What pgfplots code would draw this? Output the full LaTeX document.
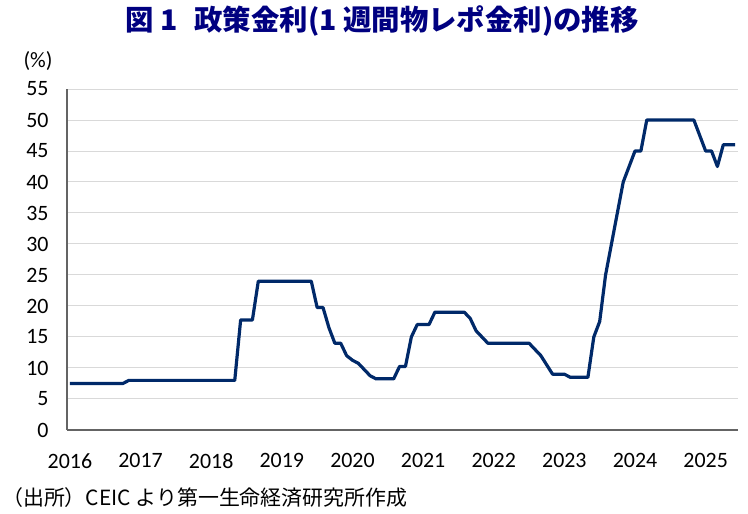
\documentclass[border=0pt]{standalone}
\usepackage{pgfplots}
\pgfplotsset{compat=1.18}
\usepackage{fontspec}
\setmainfont{Carlito}
\newfontfamily\jp{Noto Sans CJK JP}
\definecolor{linecol}{RGB}{0,41,105}
\definecolor{titlecol}{RGB}{0,0,128}
\definecolor{gridcol}{RGB}{217,217,217}
\definecolor{axcol}{RGB}{100,100,100}
\begin{document}
\begin{tikzpicture}
\path[use as bounding box] (0,0) rectangle (748bp,514bp);
\begin{axis}[
  at={(67bp,84bp)}, anchor=south west,
  scale only axis, width=671bp, height=341bp,
  xmin=-0.5, xmax=113.5, ymin=0, ymax=55,
  axis lines*=left,
  axis line style={draw=axcol, line width=1.3bp},
  xtick={0,12,24,36,48,60,72,84,96,108},
  xticklabels={2016,2017,2018,2019,2020,2021,2022,2023,2024,2025},
  ytick={0,5,10,15,20,25,30,35,40,45,50,55},
  major tick length=0pt,
  ymajorgrids, grid style={draw=gridcol, line width=1bp},
  /pgf/number format/assume math mode=true,
  ticklabel style={font=\fontsize{22}{24}\selectfont, text=black},
  yticklabel style={xshift=-15bp},
  xticklabel style={yshift=-20bp},
  clip=false,
]
\addplot[linecol, line width=3.2bp, line join=round] coordinates {
(0,7.5)(1,7.5)(2,7.5)(3,7.5)(4,7.5)(5,7.5)(6,7.5)(7,7.5)(8,7.5)(9,7.5)(10,8)(11,8)
(12,8)(13,8)(14,8)(15,8)(16,8)(17,8)(18,8)(19,8)(20,8)(21,8)(22,8)(23,8)
(24,8)(25,8)(26,8)(27,8)(28,8)(29,17.75)(30,17.75)(31,17.75)(32,24)(33,24)(34,24)(35,24)
(36,24)(37,24)(38,24)(39,24)(40,24)(41,24)(42,19.75)(43,19.75)(44,16.5)(45,14)(46,14)(47,12)
(48,11.25)(49,10.75)(50,9.75)(51,8.75)(52,8.25)(53,8.25)(54,8.25)(55,8.25)(56,10.25)(57,10.25)(58,15)(59,17)
(60,17)(61,17)(62,19)(63,19)(64,19)(65,19)(66,19)(67,19)(68,18)(69,16)(70,15)(71,14)
(72,14)(73,14)(74,14)(75,14)(76,14)(77,14)(78,14)(79,13)(80,12)(81,10.5)(82,9)(83,9)
(84,9)(85,8.5)(86,8.5)(87,8.5)(88,8.5)(89,15)(90,17.5)(91,25)(92,30)(93,35)(94,40)(95,42.5)
(96,45)(97,45)(98,50)(99,50)(100,50)(101,50)(102,50)(103,50)(104,50)(105,50)(106,50)(107,47.5)
(108,45)(109,45)(110,42.5)(111,46)(112,46)(113,46)
};
\end{axis}
\node[text=titlecol, font=\jp\bfseries\fontsize{28.5}{30}\selectfont] at (382bp,493bp) {図 1\hspace{0.6em}政策金利(1 週間物レポ金利)の推移};
\node[font=\fontsize{22}{24}\selectfont] at (38bp,453bp) {(\%)};
\node[anchor=west, inner sep=0pt, font=\jp\fontsize{21}{23}\selectfont] at (2bp,16bp) {（出所）CEIC より第一生命経済研究所作成};
\end{tikzpicture}
\end{document}
